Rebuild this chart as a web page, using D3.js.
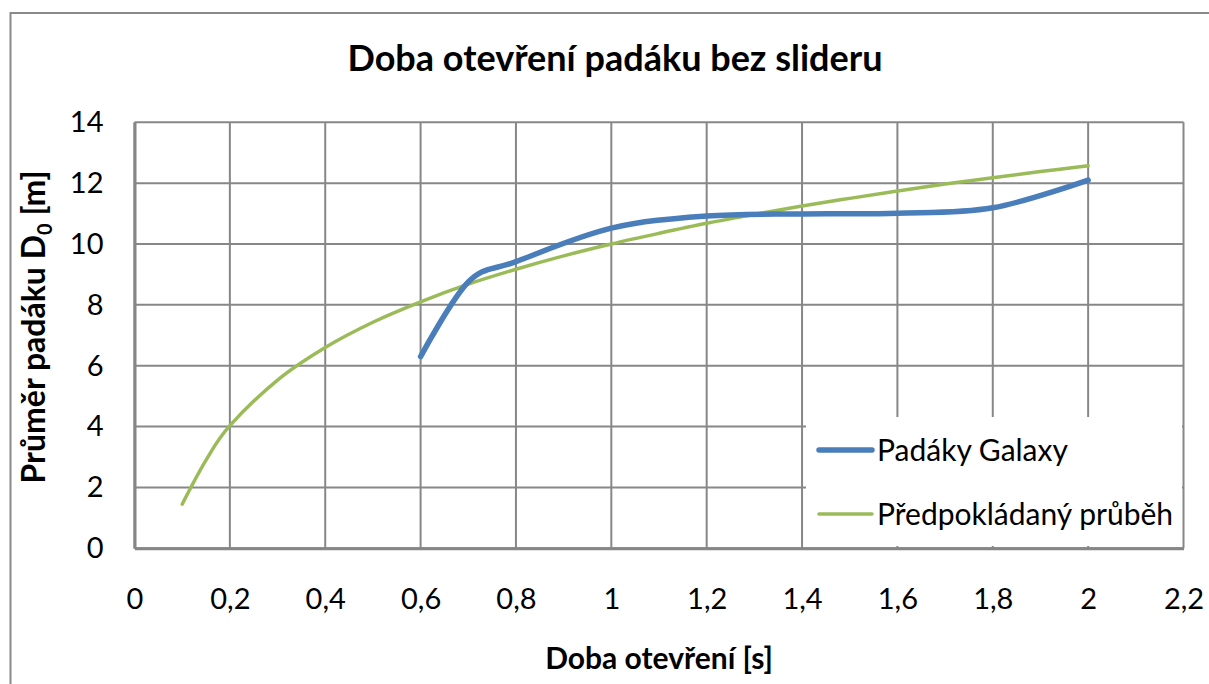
<!DOCTYPE html>
<html><head><meta charset="utf-8">
<script src="https://cdn.jsdelivr.net/npm/d3@7"></script>
<style>body{margin:0;background:#fff}svg{display:block}text{font-family:Lato,"Open Sans",sans-serif;fill:#000}</style>
</head><body><div id="chart"></div>
<script>
const title = "Doba otevření padáku bez slideru";
const xTitle = "Doba otevření [s]";
const yTitleMain = "Průměr padáku D";
const yTitleSub = "0";
const yTitleEnd = " [m]";
const xTicks = [0,0.2,0.4,0.6,0.8,1.0,1.2,1.4,1.6,1.8,2.0,2.2];
const yTicks = [0,2,4,6,8,10,12,14];
const seriesNames = ["Padáky Galaxy","Předpokládaný průběh"];
const galaxyX = [0.6,0.7,0.8,1.0,1.2,1.4,1.6,1.8,2.0];
const galaxyY = [6.3,8.75,9.42,10.52,10.92,10.99,11.01,11.19,12.1];
const expectX = [0.1,0.15,0.2,0.3,0.4,0.5,0.6,0.7,0.8,0.9,1.0,1.1,1.2,1.3,1.4,1.5,1.6,1.7,1.8,1.9,2.0];
const expectY = [1.45,2.9,4.03,5.53,6.6,7.43,8.1,8.68,9.17,9.61,10.0,10.35,10.68,10.97,11.25,11.5,11.74,11.97,12.18,12.38,12.57];

const W=1209,H=684;
const svg=d3.select("#chart").append("svg").attr("width",W).attr("height",H);
svg.append("rect").attr("x",10.5).attr("y",13).attr("width",W).attr("height",H)
  .attr("fill","#fff").attr("stroke","#898989").attr("stroke-width",2);

const x=d3.scaleLinear().domain([0,2.2]).range([134.5,1183.5]);
const y=d3.scaleLinear().domain([0,14]).range([548.3,122.3]);
const fmt=d=>String(+d.toFixed(1)).replace(".",",");

const grid=svg.append("g");
grid.selectAll("line.v").data(xTicks).join("line").attr("class","v")
  .attr("x1",d=>x(d)).attr("x2",d=>x(d)).attr("y1",y(0)).attr("y2",y(14))
  .attr("stroke","#878787").attr("stroke-width",2);
grid.selectAll("line.h").data(yTicks).join("line").attr("class","h")
  .attr("y1",d=>y(d)).attr("y2",d=>y(d)).attr("x1",x(0)).attr("x2",x(2.2))
  .attr("stroke","#878787").attr("stroke-width",2);

// axes
const xAxis=d3.axisBottom(x).tickValues(xTicks).tickFormat(fmt).tickSize(0).tickPadding(40);
const gx=svg.append("g").attr("transform",`translate(0,${y(0)})`).call(xAxis);
gx.select(".domain").attr("stroke","#868686").attr("stroke-width",3);
gx.selectAll("text").attr("font-size",29).attr("fill","#000").attr("font-family","Lato");
const yAxis=d3.axisLeft(y).tickValues(yTicks).tickFormat(fmt).tickSize(0).tickPadding(31);
const gy=svg.append("g").attr("transform",`translate(${x(0)},0)`).call(yAxis);
gy.select(".domain").attr("stroke","#868686").attr("stroke-width",3);
gy.selectAll("text").attr("font-size",29).attr("fill","#000").attr("font-family","Lato");

const line=d3.line().x(d=>x(d[0])).y(d=>y(d[1])).curve(d3.curveCatmullRom.alpha(0));
svg.append("path").datum(expectX.map((v,i)=>[v,expectY[i]])).attr("d",line)
  .attr("fill","none").attr("stroke","#9BBB59").attr("stroke-width",3.5).attr("stroke-linecap","round");
svg.append("path").datum(galaxyX.map((v,i)=>[v,galaxyY[i]])).attr("d",line)
  .attr("fill","none").attr("stroke","#4A7EBB").attr("stroke-width",5.5).attr("stroke-linecap","round");

// legend
const lg=svg.append("g");
lg.append("rect").attr("x",806).attr("y",417).attr("width",376).attr("height",129).attr("fill","#fff");
const colors=["#4A7EBB","#9BBB59"], widths=[5.5,3.5], rowsY=[450,514];
seriesNames.forEach((n,i)=>{
  lg.append("line").attr("x1",819).attr("x2",872).attr("y1",rowsY[i]).attr("y2",rowsY[i])
    .attr("stroke",colors[i]).attr("stroke-width",widths[i]).attr("stroke-linecap","round");
  lg.append("text").attr("x",877).attr("y",rowsY[i]).attr("dy","0.35em").attr("font-size",30).text(n);
});

svg.append("text").attr("x",615).attr("y",71).attr("text-anchor","middle")
  .attr("font-size",36).attr("font-weight","bold").text(title);
svg.append("text").attr("x",659).attr("y",669).attr("text-anchor","middle")
  .attr("font-size",30).attr("font-weight","bold").text(xTitle);
const yt=svg.append("text").attr("transform","translate(45,327) rotate(-90)").attr("text-anchor","middle")
  .attr("font-size",32).attr("font-weight","bold");
yt.append("tspan").text(yTitleMain);
yt.append("tspan").attr("font-size",20).attr("dy",7).text(yTitleSub);
yt.append("tspan").attr("dy",-7).text(yTitleEnd);
</script></body></html>
